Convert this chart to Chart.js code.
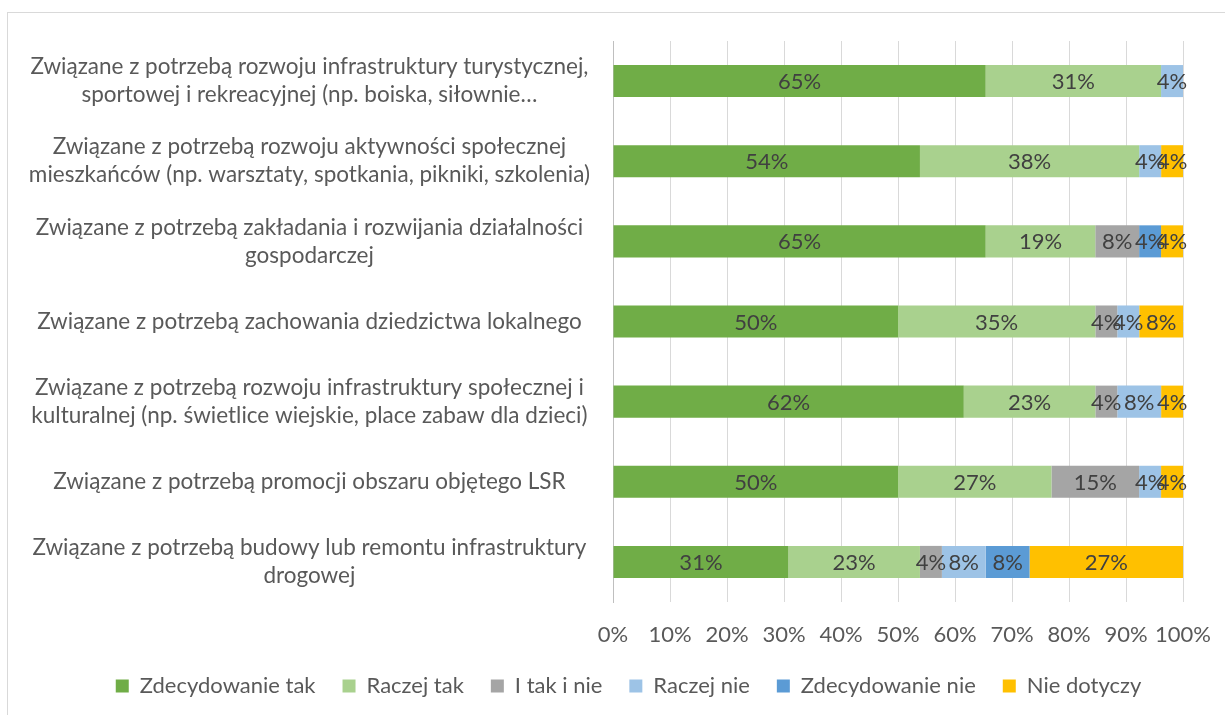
<!DOCTYPE html>
<html>
<head>
<meta charset="utf-8">
<script src="https://cdn.jsdelivr.net/npm/chart.js@4.4.1/dist/chart.umd.min.js"></script>
<style>
    html, body { margin: 0; padding: 0; background: #fff; }
    #wrap { position: relative; width: 1225px; height: 715px; overflow: hidden; }
    #frame { position: absolute; left: 7px; top: 12px; width: 1300px; height: 800px; border: 1px solid #d9d9d9; }
    canvas { position: absolute; left: 0; top: 0; }
</style>
</head>
<body>
<div id="wrap">
    <div id="frame"></div>
    <canvas id="chart" width="1225" height="715"></canvas>
</div>
<script>
// categories (multi-line labels, as in the original)
const categories = [
    ['Związane z potrzebą rozwoju infrastruktury turystycznej,', 'sportowej i rekreacyjnej (np. boiska, siłownie…'],
    ['Związane z potrzebą rozwoju aktywności społecznej', 'mieszkańców (np. warsztaty, spotkania, pikniki, szkolenia)'],
    ['Związane z potrzebą zakładania i rozwijania działalności', 'gospodarczej'],
    ['Związane z potrzebą zachowania dziedzictwa lokalnego'],
    ['Związane z potrzebą rozwoju infrastruktury społecznej i', 'kulturalnej (np. świetlice wiejskie, place zabaw dla dzieci)'],
    ['Związane z potrzebą promocji obszaru objętego LSR'],
    ['Związane z potrzebą budowy lub remontu infrastruktury', 'drogowej']
];

const seriesNames = ['Zdecydowanie tak', 'Raczej tak', 'I tak i nie', 'Raczej nie', 'Zdecydowanie nie', 'Nie dotyczy'];

// percentages (share of answers)
const zdecydowanieTak = [65.38, 53.85, 65.38, 50.00, 61.54, 50.00, 30.77];
const raczejTak       = [30.77, 38.46, 19.23, 34.62, 23.08, 26.92, 23.08];
const iTakINie        = [0,     0,     7.69,  3.85,  3.85,  15.38, 3.85];
const raczejNie       = [3.85,  3.85,  0,     3.85,  7.69,  3.85,  7.69];
const zdecydowanieNie = [0,     0,     3.85,  0,     0,     0,     7.69];
const nieDotyczy      = [0,     3.85,  3.85,  7.69,  3.85,  3.85,  26.92];

const xTicks = [0, 10, 20, 30, 40, 50, 60, 70, 80, 90, 100];

const colors = ['#70ad47', '#a9d18e', '#a5a5a5', '#9dc3e6', '#5b9bd5', '#ffc000'];
const FONT = 'Lato';
const SIZE = 22;
const padLeft = 20;
const plotLeft = 613;

// value labels in the middle of each segment
const valueLabels = {
    id: 'valueLabels',
    afterDatasetsDraw(chart) {
        const ctx = chart.ctx;
        ctx.save();
        ctx.font = SIZE + 'px ' + FONT;
        ctx.fillStyle = '#404040';
        ctx.textAlign = 'center';
        ctx.textBaseline = 'middle';
        chart.data.datasets.forEach((ds, i) => {
            chart.getDatasetMeta(i).data.forEach((bar, j) => {
                const v = ds.data[j];
                if (!v) return;
                const p = bar.getProps(['x', 'y', 'base'], true);
                ctx.fillText(Math.round(v) + '%', (p.x + p.base) / 2, p.y + 1);
            });
        });
        ctx.restore();
    }
};

// legend is centred a bit right of the plot in the original
const legendShift = {
    id: 'legendShift',
    afterLayout(chart) {
        chart.legend.left += 27;
        chart.legend.right += 27;
    }
};

const allSeries = [zdecydowanieTak, raczejTak, iTakINie, raczejNie, zdecydowanieNie, nieDotyczy];

new Chart(document.getElementById('chart'), {
    type: 'bar',
    data: {
        labels: categories,
        datasets: allSeries.map((d, i) => ({
            label: seriesNames[i],
            data: d,
            backgroundColor: colors[i],
            borderWidth: 0,
            barPercentage: 0.4,
            categoryPercentage: 1
        }))
    },
    options: {
        indexAxis: 'y',
        responsive: false,
        animation: false,
        layout: { padding: { left: padLeft, right: 42, top: 41, bottom: 8 } },
        plugins: {
            legend: {
                position: 'bottom',
                labels: {
                    boxWidth: 13, boxHeight: 13, padding: 27,
                    color: '#595959', font: { family: FONT, size: SIZE }
                }
            },
            tooltip: { enabled: false }
        },
        scales: {
            x: {
                stacked: true, min: 0, max: 100,
                afterBuildTicks: s => { s.ticks = xTicks.map(v => ({ value: v })); },
                ticks: {
                    autoSkip: false, callback: v => v + '%', color: '#595959',
                    font: { family: FONT, size: SIZE }, padding: 20, maxRotation: 0
                },
                grid: { color: '#d9d9d9', drawTicks: false },
                border: { display: false },
                afterFit: s => { s.paddingLeft = 0; s.paddingRight = 0; s.height = 46; }
            },
            y: {
                stacked: true,
                ticks: {
                    autoSkip: false, crossAlign: 'center', padding: 23,
                    color: '#595959', font: { family: FONT, size: 22.5, lineHeight: 28 / 22.5 }
                },
                grid: { display: false, drawTicks: false },
                border: { color: '#bfbfbf' },
                afterFit: s => {
                    s.width = plotLeft - padLeft;
                    s.paddingTop = 0;
                    s.paddingBottom = 0;
                }
            }
        }
    },
    plugins: [valueLabels, legendShift]
});
</script>
</body>
</html>
